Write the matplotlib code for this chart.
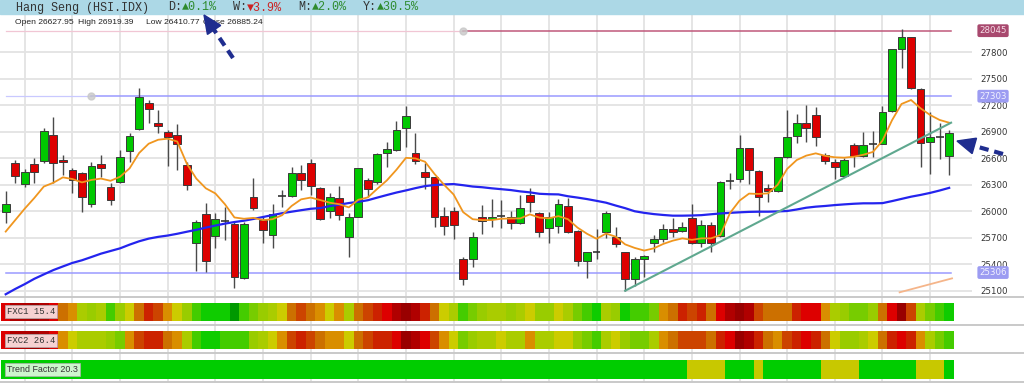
import matplotlib
matplotlib.use("Agg")
import matplotlib.pyplot as plt
from matplotlib.lines import Line2D
from matplotlib.patches import Polygon, Rectangle
import numpy as np

W, H = 1024, 384

# ---- values (one entry per daily candle) ----
opens = [25987, 26542, 26308, 26531, 26565, 26863, 26584, 26467, 26429, 26078,
         26531, 26270, 26327, 26682, 26927, 27222, 27003, 26901, 26863, 26523,
         25636, 25965, 25719, 25878, 25855, 25240, 26157, 25900, 25727, 26165,
         26169, 26433, 26542, 26259, 26006, 26153, 25704, 25938, 26353, 26327,
         26655, 26693, 26939, 26663, 26444, 26384, 25950, 25999, 25455, 25455,
         25938, 25908, 25938, 25938, 25863, 26184, 25976, 25806, 25833, 26063,
         25776, 25440, 25531, 25768, 25712, 25534, 25232, 25463, 25637, 25682,
         25795, 25780, 25920, 25637, 25848, 25720, 26339, 26362, 26713, 26460,
         26267, 26233, 26611, 26856, 26996, 27090, 26637, 26562, 26399, 26747,
         26630, 26758, 26762, 27135, 27838, 27970, 27385, 26788, 26834, 26627.95]
highs = [26229, 26580, 26474, 26599, 26939, 27063, 26640, 26486, 26448, 26561,
         26637, 26316, 26693, 26890, 27392, 27260, 27146, 26920, 26984, 26561,
         25900, 26097, 25976, 26052, 25882, 25882, 26372, 25938, 26082, 26240,
         26497, 26523, 26591, 26278, 26210, 26286, 25976, 26493, 26372, 26663,
         26788, 27022, 27192, 26882, 26542, 26391, 26044, 26044, 25485, 25768,
         26067, 26135, 26127, 26003, 26184, 26259, 25995, 25995, 26135, 26153,
         25787, 25542, 25795, 26003, 25825, 25542, 25485, 25505, 25731, 25856,
         25920, 25882, 26082, 25901, 25882, 26343, 26437, 26864, 26720, 26467,
         26305, 26618, 27147, 27098, 27203, 27177, 26656, 26588, 26599, 26777,
         26894, 26913, 27192, 27834, 28064, 27977, 27392, 27128, 26996, 26919.39]
lows = [25870, 26323, 26278, 26323, 26542, 26316, 26410, 26202, 25995, 26052,
        26391, 26070, 26316, 26561, 26920, 26995, 26882, 26512, 26467, 26240,
        25327, 25315, 25587, 25674, 25134, 25232, 26014, 25644, 25587, 26052,
        26157, 26240, 26184, 25900, 25919, 25900, 25485, 25931, 26165, 26308,
        26505, 26686, 26731, 26535, 26248, 25817, 25731, 25682, 25164, 25364,
        25738, 25825, 25814, 25799, 25855, 25995, 25712, 25644, 25749, 25749,
        25380, 25247, 25459, 25693, 25598, 25100, 25153, 25252, 25542, 25656,
        25712, 25761, 25629, 25599, 25542, 25712, 26248, 26335, 26309, 25950,
        26109, 26222, 26607, 26777, 26788, 26739, 26535, 26362, 26392, 26505,
        26618, 26618, 26758, 27128, 27619, 27381, 26505, 26422, 26588, 26410.77]
closes = [26078, 26399, 26440, 26440, 26908, 26550, 26554, 26353, 26165, 26512,
          26489, 26127, 26618, 26852, 27290, 27154, 26965, 26837, 26761, 26293,
          25882, 25440, 25908, 25885, 25251, 25855, 26033, 25787, 25965, 26172,
          26429, 26353, 26286, 25908, 26157, 25957, 25931, 26486, 26255, 26648,
          26701, 26920, 27078, 26573, 26391, 25931, 25836, 25844, 25229, 25712,
          25893, 25931, 25946, 25863, 26033, 26104, 25761, 25938, 26078, 25761,
          25440, 25534, 25538, 25976, 25629, 25229, 25463, 25490, 25686, 25795,
          25769, 25818, 25637, 25848, 25637, 26335, 26346, 26713, 26467, 26158,
          26233, 26611, 26845, 26996, 26939, 26845, 26573, 26497, 26581, 26630,
          26747, 26765, 27120, 27834, 27970, 27392, 26777, 26837, 26841, 26885.24]

# moving averages as drawn on the chart
ma_fast = [25770, 25900, 26030, 26150, 26280, 26323, 26384, 26365, 26327, 26355,
           26370, 26345, 26391, 26486, 26660, 26765, 26810, 26822, 26790, 26540,
           26370, 26260, 26202, 26080, 25930, 25915, 25925, 25900, 25910, 25955,
           26060, 26135, 26155, 26127, 26097, 26080, 26044, 26130, 26157, 26255,
           26350, 26470, 26605, 26598, 26561, 26422, 26300, 26190, 25990, 25910,
           25900, 25900, 25915, 25918, 25919, 25965, 25928, 25920, 25945, 25910,
           25815, 25745, 25688, 25748, 25712, 25625, 25585, 25555, 25580, 25630,
           25667, 25693, 25676, 25693, 25693, 25731, 25980, 26120, 26200, 26196,
           26203, 26300, 26480, 26580, 26630, 26656, 26627, 26611, 26607, 26618,
           26640, 26672, 26800, 27030, 27215, 27260, 27166, 27090, 27034, 27003]
ma_slow = [25060, 25120, 25175, 25235, 25285, 25334, 25375, 25415, 25445, 25482,
           25520, 25550, 25580, 25622, 25660, 25690, 25710, 25725, 25745, 25768,
           25790, 25815, 25838, 25860, 25878, 25893, 25913, 25935, 25957, 25978,
           25995, 26012, 26028, 26036, 26058, 26075, 26093, 26107, 26125, 26155,
           26184, 26212, 26236, 26262, 26285, 26297, 26304, 26308, 26295, 26280,
           26272, 26260, 26250, 26240, 26225, 26214, 26198, 26193, 26191, 26170,
           26155, 26138, 26118, 26097, 26065, 26035, 26000, 25982, 25968, 25958,
           25950, 25950, 25952, 25956, 25966, 25975, 25982, 25988, 25993, 25995,
           25995, 25998, 26003, 26020, 26040, 26052, 26060, 26070, 26078, 26085,
           26090, 26090, 26092, 26115, 26140, 26165, 26185, 26208, 26235, 26265]

price_ticks = [25100, 25400, 25700, 26000, 26300, 26600, 26900, 27200, 27500, 27800]
level_values = [28045, 27303, 25306]
level_anchor = [48, 9, 0]
trend_x = [65, 99.2]
trend_y = [25100, 27003]
trend2_x = [93.8, 99.3]
trend2_y = [25082, 25240]

# indicator strips: colour level per candle, 0 = deep red ... 13 = deep green
fxc1_levels = [2, 1, 1, 0, 1, 2, 5, 6, 8, 9, 8, 11, 9, 7, 5, 3, 4, 6, 7, 9,
               11, 12, 12, 12, 13, 11, 10, 9, 8, 7, 5, 4, 5, 6, 7, 6, 8, 5, 4, 3,
               2, 1, 0, 1, 3, 5, 7, 8, 11, 10, 9, 8, 8, 9, 8, 7, 9, 9, 7, 8,
               10, 11, 12, 8, 9, 12, 11, 11, 10, 6, 5, 3, 4, 3, 5, 2, 1, 0, 1, 4,
               5, 5, 5, 3, 2, 2, 6, 8, 9, 10, 10, 9, 5, 2, 0, 4, 8, 10, 11, 12]
fxc2_levels = [2, 1, 1, 0, 1, 2, 6, 7, 8, 8, 8, 9, 10, 6, 4, 3, 3, 5, 6, 8,
               11, 12, 12, 11, 11, 11, 9, 8, 7, 6, 4, 3, 4, 5, 6, 6, 7, 5, 4, 3,
               3, 2, 0, 1, 2, 4, 6, 7, 10, 9, 8, 8, 7, 8, 8, 6, 8, 8, 7, 7,
               9, 10, 11, 8, 7, 9, 10, 10, 8, 6, 5, 4, 4, 4, 5, 3, 2, 0, 1, 3,
               5, 6, 4, 3, 2, 3, 5, 7, 9, 9, 8, 7, 5, 3, 2, 3, 6, 8, 10, 11]
trend_factor = [1] * 72 + [0, 0, 0, 0, 1, 1, 1, 0, 1, 1, 1, 1, 1, 1,
                           0, 0, 0, 0, 1, 1, 1, 1, 1, 1, 0, 0, 0, 1]

PALETTE = ['#990000', '#b00000', '#dd0000', '#cc2200', '#cc4400', '#cc7000', '#d98e00',
           '#cccc00', '#aacc00', '#99cc00', '#77cc00', '#44cc00', '#0fcc00', '#009900']
TF_COLORS = {0: '#c8c800', 1: '#00cc00'}
GRID = '#e3e3e3'

fig = plt.figure(figsize=(W / 100, H / 100), dpi=100)

# pixel -> index mapping of the candle grid
X0, STEP = 5.7, 9.53
xlim = ((0 - X0) / STEP, (972 - X0) / STEP)


def fig_xy(px, py):
    return px / W, 1 - py / H


# header bar
fig.patches.append(Rectangle((0, 1 - 14 / H), 1, 14 / H, transform=fig.transFigure,
                             color='#acd8e6', zorder=0))
mono = ['Liberation Mono', 'DejaVu Sans Mono']
header = [(16, 'Hang Seng (HSI.IDX)', '#333333'),
          (168, 'D:', '#333333'), (182, '▲0.1%', '#2e8b2e'),
          (233, 'W:', '#333333'), (247, '▼3.9%', '#cc2222'),
          (298, 'M:', '#333333'), (312, '▲2.0%', '#2e8b2e'),
          (363, 'Y:', '#333333'), (377, '▲30.5%', '#2e8b2e')]
for px, s, col in header:
    fig.text(px / W, 1 - 7.5 / H, s, family=mono, fontsize=8.5, color=col, va='center')

# ---- main price panel ----
ax = fig.add_axes([0, 1 - 297 / H, 972 / W, (297 - 14) / H])
ax.set_xlim(*xlim)
ax.set_ylim(25029, 28234)
for s in ax.spines.values():
    s.set_visible(False)
ax.set_xticks(np.arange(2, 100, 5))
ax.set_yticks(price_ticks)
ax.yaxis.tick_right()
ax.tick_params(axis='x', length=0, labelbottom=False)
ax.tick_params(axis='y', length=0, pad=6, labelsize=6.2, labelcolor='#333333')
ax.grid(True, color=GRID, lw=1.3, zorder=0)
ax.set_axisbelow(True)

x = np.arange(len(opens))
o, h, l, c = map(np.asarray, (opens, highs, lows, closes))
doji = np.abs(c - o) < 12
up = c >= o

# level lines
for val, anc in zip(level_values, level_anchor):
    strong = '#c0587a' if val == level_values[0] else '#9a9aff'
    faint = '#f1c6d4' if val == level_values[0] else '#c9c9ff'
    ax.plot([0, anc], [val, val], color=faint, lw=0.9, zorder=1)
    ax.plot([anc, 99.2], [val, val], color=strong, lw=1.1, zorder=1)
    if anc > 0:
        ax.plot(anc, val, 'o', ms=5, color='#c8c8c8', alpha=0.8, zorder=2)

ax.vlines(x, l, h, color='#4a4a4a', lw=1.0, zorder=3)
body_col = np.where(up, '#00c800', '#dd0000')
nb = ~doji
ax.bar(x[nb], np.abs(c - o)[nb], bottom=np.minimum(o, c)[nb], width=0.82,
       color=body_col[nb], edgecolor='#3a3a3a', linewidth=0.7, zorder=4)
ax.hlines(c[doji], x[doji] - 0.41, x[doji] + 0.41, color='#333333', lw=1.2, zorder=4)

ax.plot(x, ma_slow, color='#2424ee', lw=1.6, zorder=5)
ax.plot(x, ma_fast, color='#f0961e', lw=1.3, zorder=5)
ax.plot(trend_x, trend_y, color='#5fa88f', lw=1.5, zorder=5)
ax.plot(trend2_x, trend2_y, color='#f5b58a', lw=1.3, zorder=5)

# price badges on the right
badge_style = {level_values[0]: ('#a8496e', '#f6dce6')}
for val in level_values:
    bg, fg = badge_style.get(val, ('#9c9cf2', '#f2f2ff'))
    ax.text(1.0075, val, f'{val}', transform=ax.get_yaxis_transform(), fontsize=6.2,
            color=fg, va='center', ha='left',
            bbox=dict(boxstyle='round,pad=0.22', fc=bg, ec='none'), zorder=6)

ohlc = [(15, 'Open 26627.95'), (78, 'High 26919.39'), (146, 'Low 26410.77'),
        (203, 'Close 26885.24')]
for px, s in ohlc:
    fig.text(px / W, 1 - 23 / H, s, family='Liberation Sans', fontsize=6.1,
             color='#222222', va='center')

# ---- indicator strips ----
strips = [
    (297, 325, 0.80, 0.15, [PALETTE[v] for v in fxc1_levels], 'FXC1 15.4', '#f6d2d2', mono),
    (325, 352.5, 0.77, 0.12, [PALETTE[v] for v in fxc2_levels], 'FXC2 26.4', '#f6d2d2', mono),
    (352.5, 382, 0.76, 0.10, [TF_COLORS[v] for v in trend_factor], 'Trend Factor 20.3',
     '#cdf5cd', ['Liberation Sans']),
]
for top, bot, ftop, fbot, cols, label, lbg, fam in strips:
    sa = fig.add_axes([0, 1 - bot / H, 972 / W, (bot - top) / H])
    sa.set_xlim(*xlim)
    sa.set_ylim(0, 1)
    for s in sa.spines.values():
        s.set_visible(False)
    sa.set_xticks(np.arange(2, 100, 5))
    sa.set_yticks([])
    sa.tick_params(axis='x', length=0, labelbottom=False)
    sa.grid(True, axis='x', color=GRID, lw=1.3)
    sa.set_axisbelow(True)
    sa.bar(x, ftop - fbot, bottom=fbot, width=1.0, color=cols, linewidth=0, zorder=2)
    sa.text(7 / 972, (ftop + fbot) / 2, label, transform=sa.transAxes, family=fam,
            fontsize=6.4, color='#333333', va='center', ha='left', zorder=3,
            bbox=dict(boxstyle='square,pad=0.22', fc=lbg, ec='#b0b0b0', lw=0.5))

for py in (297, 325, 352.5, 381.5):
    fig.add_artist(Line2D([0, 1], [1 - py / H] * 2, transform=fig.transFigure,
                          color='#c9c9c9', lw=1.4, zorder=1))


# ---- dashed annotation arrows ----
def dashed_arrow(tip, tail, head_len=18, head_w=16, color='#1f2d8f'):
    tip = np.array(tip, float)
    tail = np.array(tail, float)
    u = (tip - tail) / np.hypot(*(tip - tail))
    base = tip - u * head_len
    perp = np.array([-u[1], u[0]])
    pts = [tip, base + perp * head_w / 2, base - perp * head_w / 2]
    fig.add_artist(Polygon([fig_xy(*p) for p in pts], closed=True, transform=fig.transFigure,
                           color=color, zorder=10))
    (xa, ya), (xb, yb) = fig_xy(*tail), fig_xy(*(base + u * 2))
    fig.add_artist(Line2D([xa, xb], [ya, yb], transform=fig.transFigure, color=color,
                          lw=3.0, linestyle=(0, (2.2, 1.4)), solid_capstyle='butt',
                          zorder=10))


dashed_arrow((204, 15), (233, 58))
dashed_arrow((957, 141), (1003, 154))

fig.savefig('out.png', dpi=100)
